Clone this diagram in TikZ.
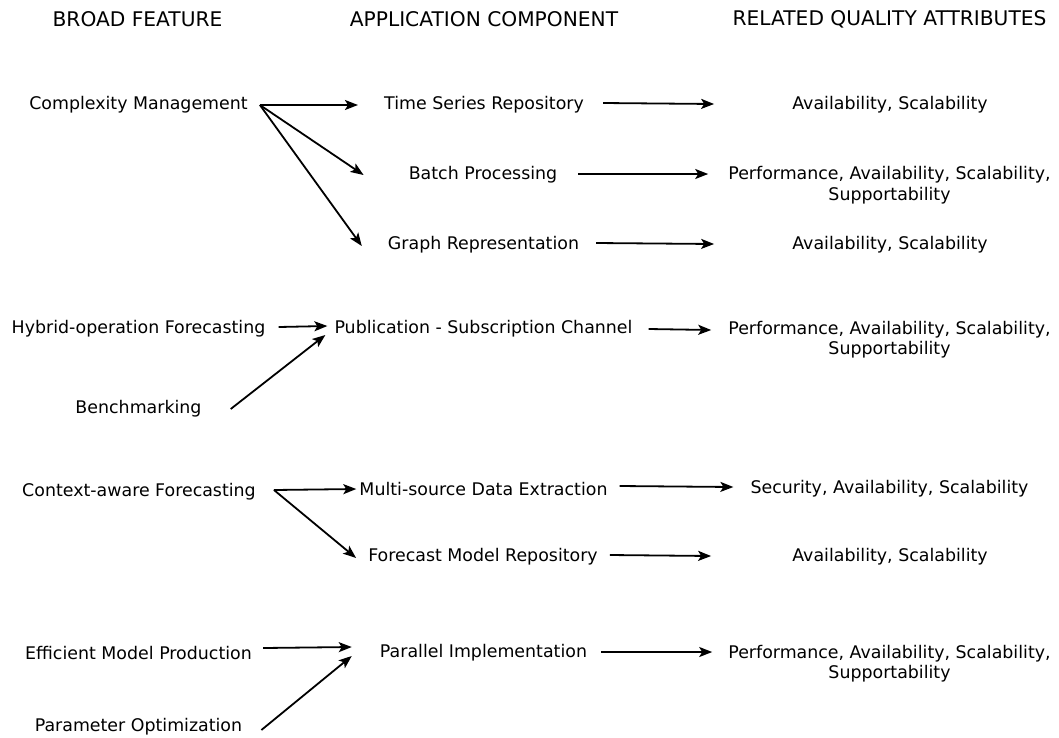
\documentclass[tikz,border=0pt]{standalone}
\usepackage{fontspec}
\setmainfont{DejaVu Sans}
\usetikzlibrary{arrows.meta}
\tikzset{
  lbl/.style={inner sep=0pt, yshift=-2pt, font=\fontsize{17.4}{20.5}\selectfont, align=center},
  head/.style={inner sep=0pt, font=\fontsize{20.2}{22}\selectfont},
  arr/.style={line width=1.8pt, -{Stealth[length=13pt,width=10pt,inset=3pt]}}
}
\begin{document}
\begin{tikzpicture}[x=1pt,y=-1pt]
\useasboundingbox (0,0) rectangle (1059,737);
% column headings
\node[head] (h1) at (137.5,19) {BROAD FEATURE};
\node[head] (h2) at (484,19) {APPLICATION COMPONENT};
\node[head] (h3) at (889.5,19) {RELATED QUALITY ATTRIBUTES};
% broad features
\node[lbl] (cm)  at (138.5,103) {Complexity Management};
\node[lbl] (hof) at (138.5,327) {Hybrid-operation Forecasting};
\node[lbl] (bm)  at (138.5,407) {Benchmarking};
\node[lbl] (caf) at (139,490) {Context-aware Forecasting};
\node[lbl] (emp) at (138.5,651) {Efficient Model Production};
\node[lbl] (po)  at (138.5,725) {Parameter Optimization};
% application components
\node[lbl] (tsr) at (484,103) {Time Series Repository};
\node[lbl] (bp)  at (483,173) {Batch Processing};
\node[lbl] (gr)  at (483.5,243) {Graph Representation};
\node[lbl] (psc) at (483.5,327) {Publication - Subscription Channel};
\node[lbl] (mde) at (483.5,487) {Multi-source Data Extraction};
\node[lbl] (fmr) at (483,555) {Forecast Model Repository};
\node[lbl] (pi)  at (483.5,651) {Parallel Implementation};
% quality attributes
\node[lbl] (q1) at (890,103) {Availability, Scalability};
\node[lbl] (q2) at (889.5,183) {Performance, Availability, Scalability,\\Supportability};
\node[lbl] (q3) at (890,243) {Availability, Scalability};
\node[lbl] (q4) at (889.5,337.5) {Performance, Availability, Scalability,\\Supportability};
\node[lbl] (q5) at (889.5,487) {Security, Availability, Scalability};
\node[lbl] (q6) at (890,555) {Availability, Scalability};
\node[lbl] (q7) at (889.5,661.5) {Performance, Availability, Scalability,\\Supportability};
% feature -> component
\coordinate (cmo) at ([xshift=12]cm.east |- 0,105);
\draw[arr] (cmo) -- ([xshift=-26]tsr.west |- 0,105);
\draw[arr] (cmo) -- ([xshift=-45]bp.west |- 0,175);
\draw[arr] (cmo) -- ([xshift=-26]gr.west |- 0,246);
\draw[arr] ([xshift=13]hof.east |- 0,327) -- ([xshift=-7]psc.west |- 0,326);
\draw[arr] ([xshift=29]bm.east |- 0,409) -- ([xshift=-9]psc.west |- 0,335);
\coordinate (cafo) at ([xshift=18]caf.east |- 0,490);
\draw[arr] (cafo) -- ([xshift=-3]mde.west |- 0,489);
\draw[arr] (cafo) -- ([xshift=-12]fmr.west |- 0,558);
\draw[arr] ([xshift=11]emp.east |- 0,648) -- ([xshift=-28]pi.west |- 0,647);
\draw[arr] ([xshift=19]po.east |- 0,730) -- ([xshift=-28]pi.west |- 0,656);
% component -> quality attributes
\draw[arr] ([xshift=19]tsr.east |- 0,103) -- ([xshift=-78]q1.west |- 0,104);
\draw[arr] ([xshift=21]bp.east |- 0,174) -- ([xshift=-20]q2.west |- 0,174);
\draw[arr] ([xshift=17]gr.east |- 0,243) -- ([xshift=-78]q3.west |- 0,244);
\draw[arr] ([xshift=16]psc.east |- 0,329) -- ([xshift=-17]q4.west |- 0,330);
\draw[arr] ([xshift=12]mde.east |- 0,486) -- ([xshift=-17]q5.west |- 0,487);
\draw[arr] ([xshift=12]fmr.east |- 0,555) -- ([xshift=-81]q6.west |- 0,556);
\draw[arr] ([xshift=14]pi.east |- 0,652) -- ([xshift=-16]q7.west |- 0,652);
\end{tikzpicture}
\end{document}
